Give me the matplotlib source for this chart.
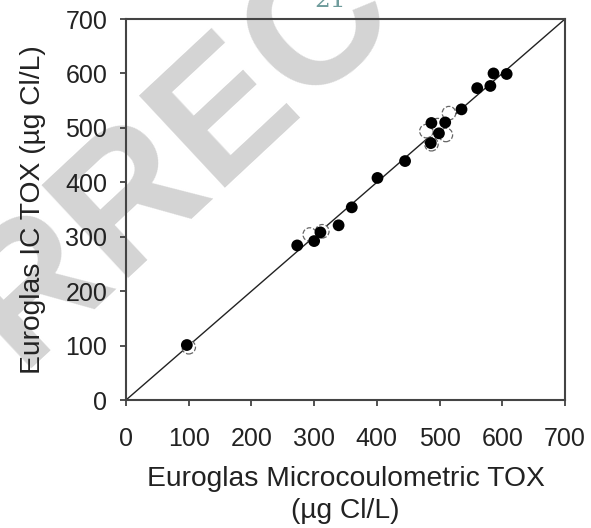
import matplotlib
matplotlib.use("Agg")
import matplotlib.pyplot as plt

plt.rcParams['font.family'] = ['Liberation Sans', 'DejaVu Sans']

# Filled points: Microcoulometric TOX (x) vs IC TOX (y)
micro_tox = [97, 273, 300, 310, 339, 360, 401, 445, 486, 487, 499, 509, 535, 560, 581, 586, 607]
ic_tox = [101, 284, 292, 308, 321, 354, 408, 439, 472, 509, 490, 510, 534, 573, 577, 600, 599]

# Open (dashed-outline) points partly hidden behind the filled points
micro_open = [100, 293, 313, 479, 487, 510, 515, 497]
ic_open = [97, 304, 310, 494, 470, 487, 527, 505]

ticks = [0, 100, 200, 300, 400, 500, 600, 700]

fig = plt.figure(figsize=(5.91, 5.28), dpi=100)
ax = fig.add_axes([0.2132, 0.2424, 0.7428, 0.7216])
ax.patch.set_alpha(0)

# watermark
fig.text(212/591, 1-128/528, "CORRECTED", rotation=43, rotation_mode='anchor',
         ha='center', va='center', fontsize=132, fontweight='bold',
         color='#d4d4d4', zorder=-5)
fig.text(330/591, 1-7/528, "21", ha='center', va='baseline', fontsize=18,
         family='DejaVu Serif', color='#6f9c9c', zorder=-4)

ax.plot([0, 700], [0, 700], color='#222222', lw=1.0, zorder=2)
ax.scatter(micro_open, ic_open, s=95, facecolors='white', edgecolors='#666666',
           linewidths=0.9, linestyles='--', zorder=3)
ax.scatter(micro_tox, ic_tox, s=72, color='black', edgecolors='none', zorder=4)

ax.set_xlim(0, 700)
ax.set_ylim(0, 700)
ax.set_xticks(ticks)
ax.set_yticks(ticks)
ax.tick_params(axis='x', direction='out', length=4.5, width=1.2, color='#333333',
               labelsize=18, pad=15, labelcolor='#222222')
ax.tick_params(axis='y', direction='out', length=4.5, width=1.2, color='#333333',
               labelsize=18, pad=9, labelcolor='#222222')
for s in ax.spines.values():
    s.set_linewidth(1.5)
    s.set_color('#444444')

ax.set_xlabel("Euroglas Microcoulometric TOX\n(\u00b5g Cl/L)", fontsize=20.3,
              color='#222222', linespacing=1.28, labelpad=11)
ax.set_ylabel("Euroglas IC TOX (\u00b5g Cl/L)", fontsize=20.3, color='#222222', labelpad=14)

fig.savefig("out.png", dpi=100)
